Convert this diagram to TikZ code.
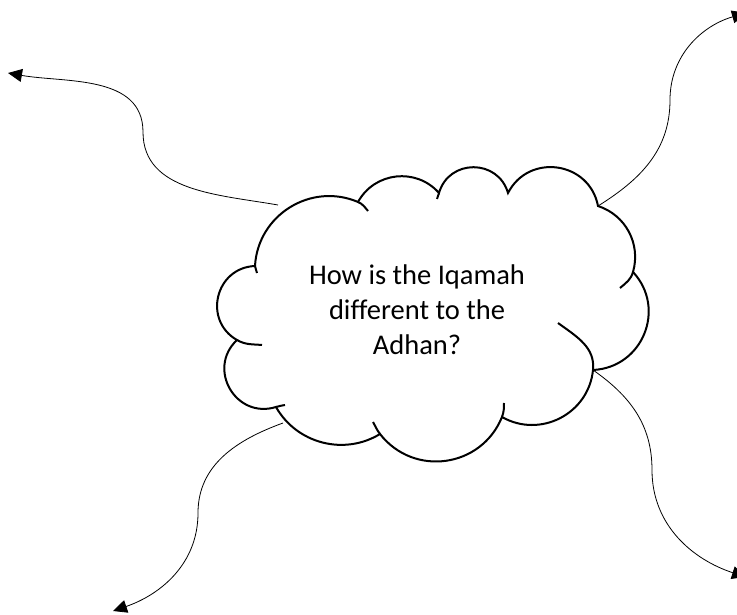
\documentclass[tikz,border=0pt]{standalone}
\usepackage{fontspec}
\setmainfont{Carlito}[Ligatures=CommonOff]
\usetikzlibrary{arrows.meta}

\begin{document}
\begin{tikzpicture}[x=1pt,y=1pt,
  puff/.style={line width=2pt},
  link/.style={line width=0.8pt,-{Triangle[length=14pt,width=13pt]}}]
\useasboundingbox (0,0) rectangle (737,614);
% cloud outline
\coordinate (j1) at (255,348);
\coordinate (j2) at (358,412);
\coordinate (j3) at (439,421);
\coordinate (j4) at (508,421);
\coordinate (j5) at (598,408);
\coordinate (j6) at (633,342);
\coordinate (j7) at (593,244);
\coordinate (j8) at (502,197);
\coordinate (j9) at (380,180);
\coordinate (j10) at (276,207);
\coordinate (j11) at (237,274);
\draw[puff] (j1) to[bend left=55,looseness=1.08] (j2)
  to[bend left=55,looseness=1.08] (j3)
  to[bend left=74,looseness=1.33] (j4)
  to[bend left=71,looseness=1.28] (j5)
  to[bend left=44,looseness=1] (j6)
  to[bend left=65,looseness=1.2] (j7)
  to[bend left=57,looseness=1.1] (j8)
  to[bend left=60,looseness=1.14] (j9)
  to[bend left=46,looseness=1] (j10)
  to[bend left=77,looseness=1.39] (j11)
  to[bend left=74,looseness=1.33] (j1);
% inner arcs
\draw[puff] (j1) to[out=-93,in=90] (257,341);
\draw[puff] (j2) to[out=-23,in=130] (368,403);
\draw[puff] (j3) to[out=-106,in=80] (437,415);
\draw[puff] (j6) to[out=-106,in=40] (620,326);
\draw[puff] (j7) to[out=84,in=-36] (558,291);
\draw[puff] (j8) to[out=70,in=-90] (504,211);
\draw[puff] (j9) to[out=128,in=-60] (373,192);
\draw[puff] (j10) to[out=17,in=190] (285,209);
\draw[puff] (j11) to[out=-30,in=175] (262,269);

\node[align=center,font=\fontsize{28.5}{35}\selectfont] (q) at (417,304)
  {How is the Iqamah\\different to the\\Adhan?};

% arrows
\coordinate (a1) at (278,409);
\coordinate (m1) at (143,482);
\coordinate (e1) at (8,541);
\coordinate (m2) at (670,514);
\coordinate (e2) at (746,601);
\coordinate (a3) at (283,191);
\coordinate (m3) at (198,101);
\coordinate (e3) at (113,3);
\coordinate (m4) at (652,144);
\coordinate (e4) at (746,37);
\draw[link] (a1) to[out=170,in=-90] (m1) to[out=90,in=-10] (e1);
\draw[link] (j5) to[out=32,in=-90] (m2) to[out=90,in=196] (e2);
\draw[link] (a3) to[out=200,in=90] (m3) to[out=-90,in=19] (e3);
\draw[link] (j7) to[out=-35,in=90] (m4) to[out=-90,in=162] (e4);
\end{tikzpicture}
\end{document}
